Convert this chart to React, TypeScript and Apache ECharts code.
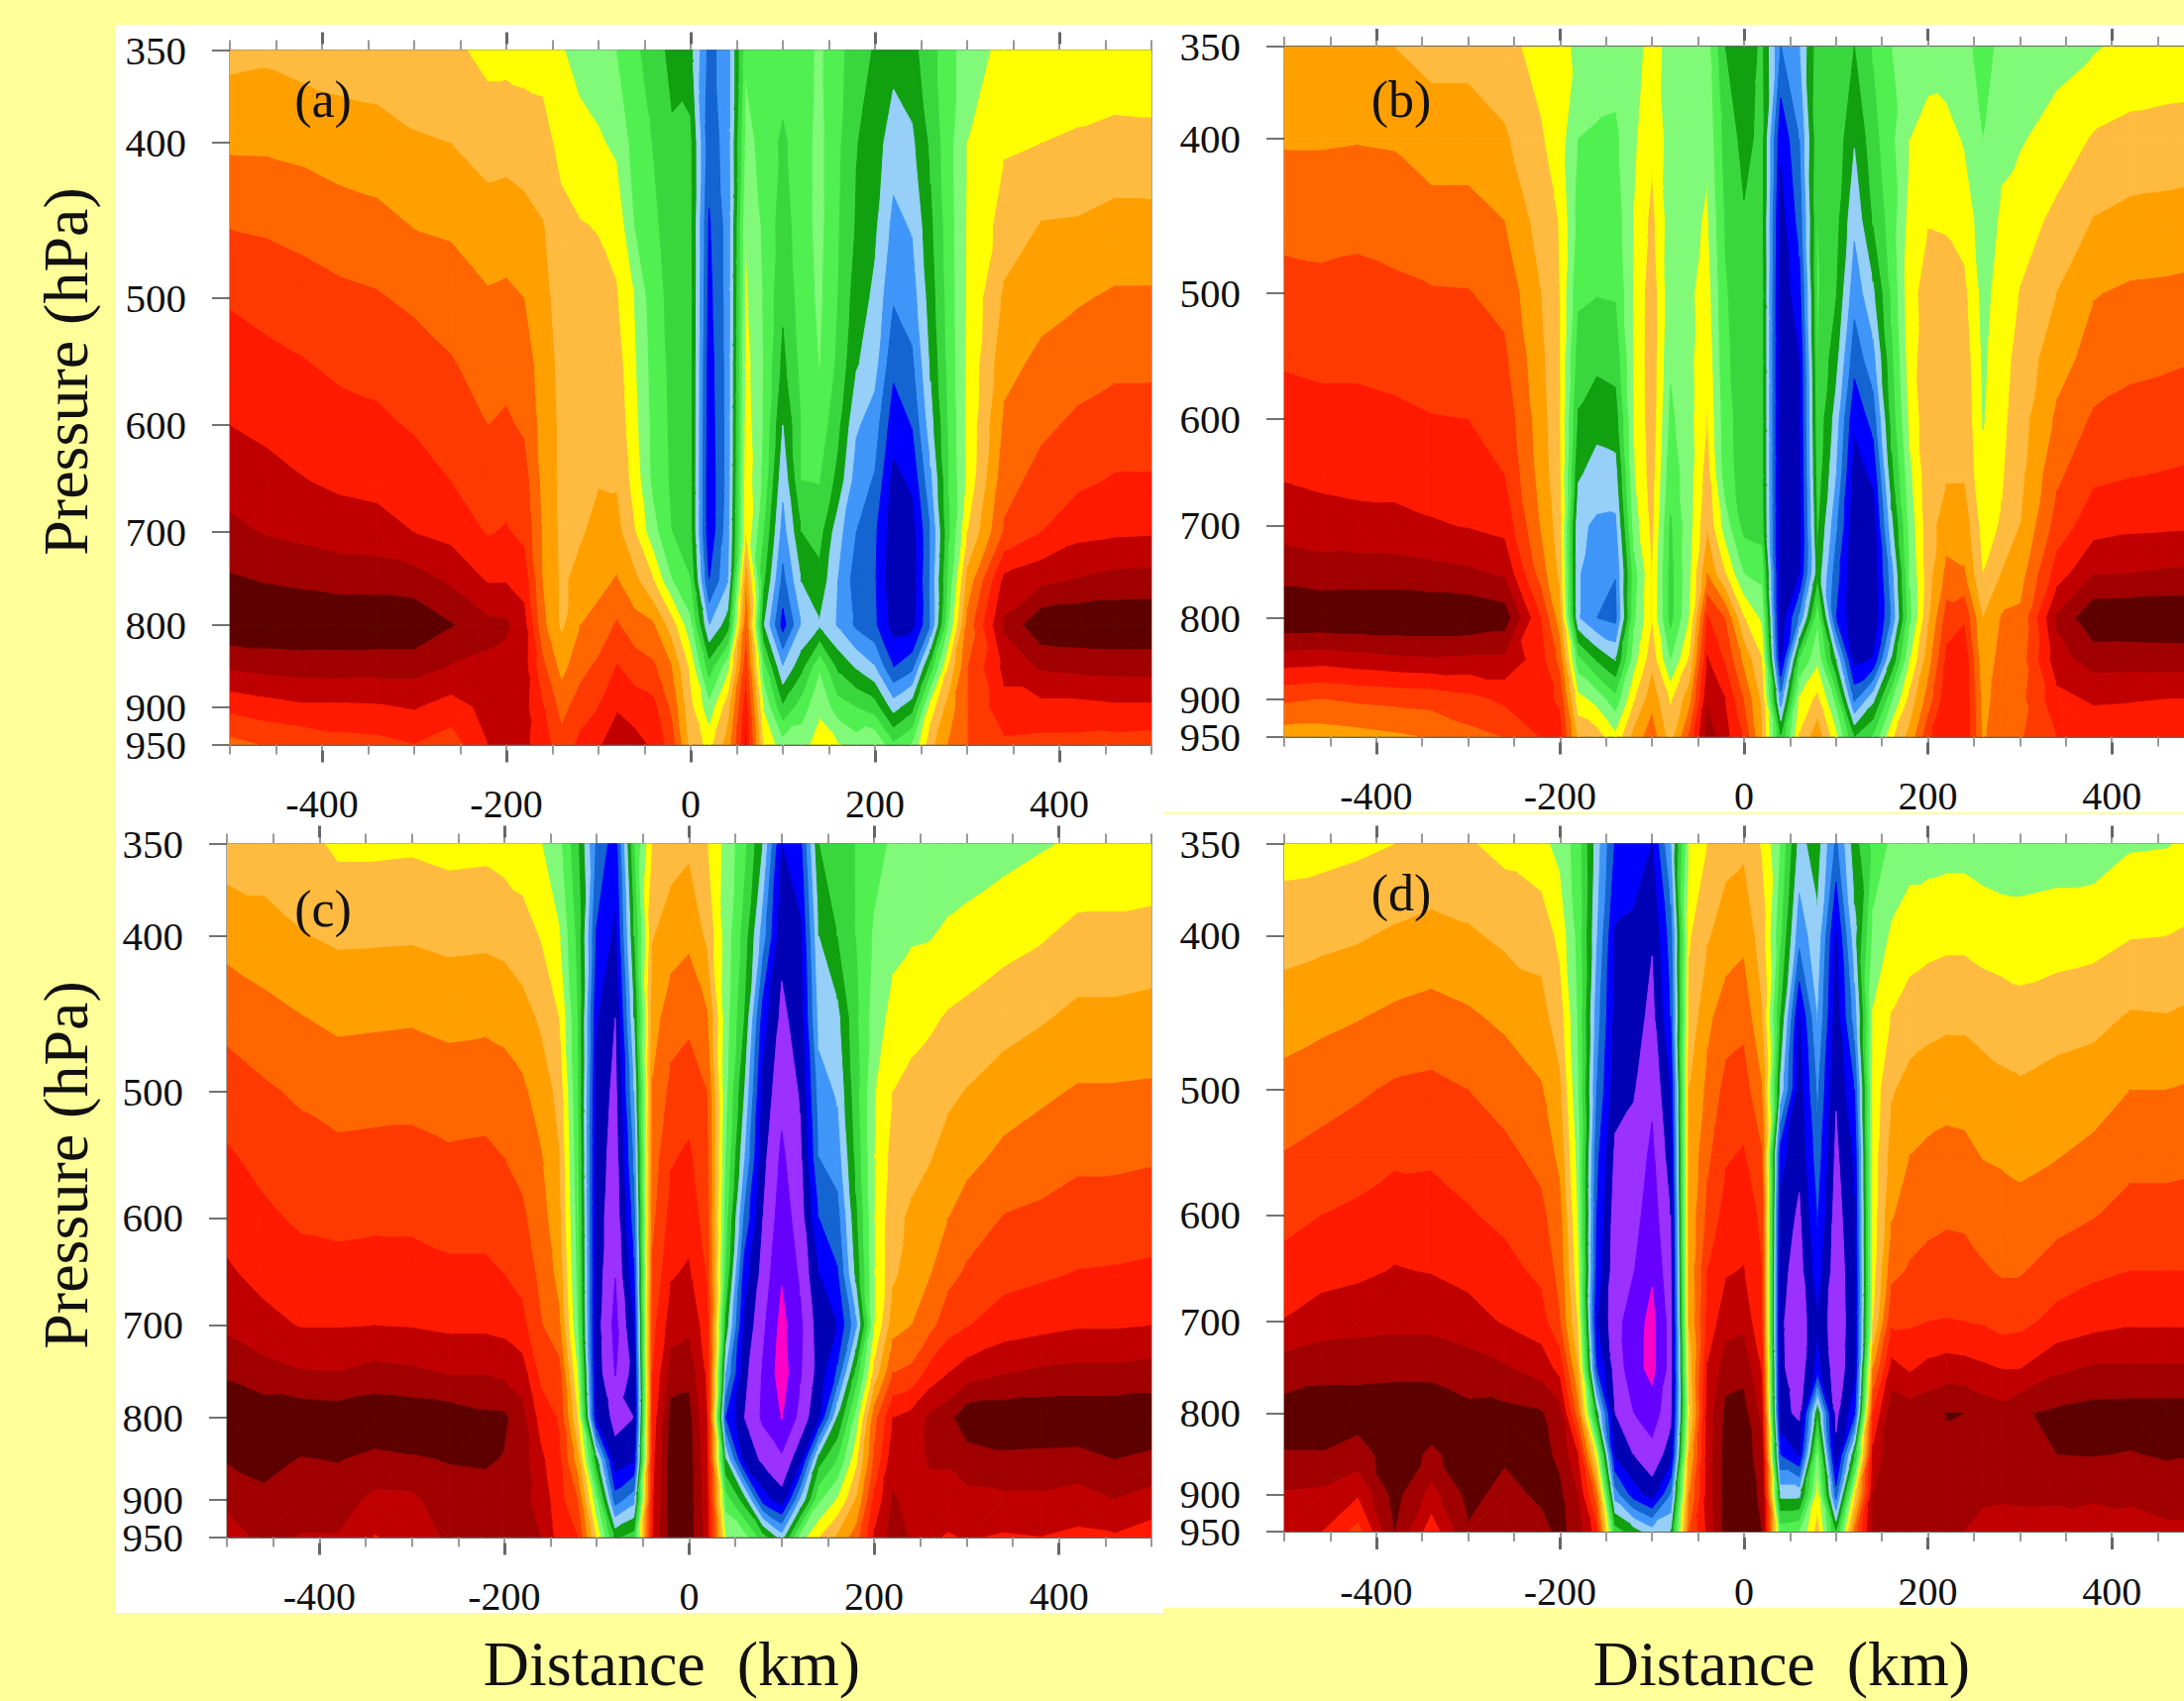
import React, { useEffect, useRef } from "react";
import * as echarts from "echarts";

const distances = [-500,-460,-420,-380,-340,-300,-260,-220,-200,-180,-160,-140,-120,-100,-80,-60,-40,-20,0,20,40,60,80,100,120,140,160,180,200,220,240,260,280,300,340,380,420,460,500];
const pressures = [350,400,450,500,550,600,650,700,750,800,850,900,950];
const pressureTicks = [350,400,500,600,700,800,900,950];
const pressureLabelsUpper = [350,400,500,600,700,800,900];
const pressureLabelsBase = [950];
const distanceLabels = [-400,-200,0,200,400];
const distanceTicks = [-500,-450,-400,-350,-300,-250,-200,-150,-100,-50,0,50,100,150,200,250,300,350,400,450,500];
const bandColors = ["#5f0000","#a00000","#c00000","#ff1a00","#ff3a00","#ff6600","#ffa000","#ffbb40","#ffff00","#80fa78","#50f050","#3ad63e","#10a010","#96cff8","#4096f8","#1464d2","#0000ff","#0000b4","#9b30ff","#6600ff","#ff00c8"];

// each inner list: one distance column, 350 hPa down to 950 hPa; value = colour band position
const panelA = [
[7.3,6.15,5.05,4.1,3.5,3.0,2.4,1.75,0.85,0.15,1.85,3.7,5.3],
[7.2,6.16,5.14,4.35,3.72,3.22,2.67,2.07,1.07,.15,1.65,3.4,4.9],
[7.4,6.27,5.32,4.55,3.93,3.43,2.96,2.26,1.23,.1,1.57,3.15,4.7],
[7.5,6.48,5.55,4.77,4.2,3.64,3.19,2.5,1.38,.15,1.55,3.15,4.4],
[7.55,6.6,5.7,4.9,4.3,3.8,3.3,2.6,1.4,.15,1.6,3.1,4.3],
[7.7,6.88,6.04,5.2,4.5,4.1,3.5,3.0,1.55,.15,1.6,2.9,4.0],
[7.75,7.0,6.15,5.48,4.9,4.45,4.0,3.3,2.15,.9,2.05,3.4,4.5],
[8.3,7.4,6.57,5.88,5.43,5.0,4.5,4.07,3.07,1.7,2.2,2.7,3.0],
[8.3,7.35,6.5,5.8,5.3,4.85,4.4,3.9,3.05,1.8,2.4,2.55,2.65],
[8.35,7.5,6.65,6.0,5.45,5.15,4.55,4.25,3.4,2.6,2.6,2.7,2.8],
[8.4,7.6,6.95,6.7,6.5,6.35,6.25,6.1,6.0,5.7,4.7,3.9,3.5],
[8.9,8.3,7.7,7.4,7.25,7.2,7.2,7.2,7.15,7.15,6.3,5.3,4.6],
[9.4,8.6,7.95,7.6,7.45,7.35,7.2,7.1,6.7,6.0,5.3,4.5,3.7],
[9.6,8.85,8.05,7.7,7.5,7.35,7.05,6.7,6.3,5.6,4.75,4.0,3.1],
[10,9.2,8.3,7.9,7.5,7.3,7.1,6.6,5.9,4.85,3.9,3.1,2.4],
[10.8,10.4,10.05,9.05,8.9,8.7,8.4,7.95,6.7,5.6,4.45,3.5,2.6],
[11.5,11.05,10.8,10.6,10.4,10.3,10.25,9.6,8.0,5.9,4.8,3.7,3.2],
[12.3,11.85,11.5,11.3,11.25,11.2,11.15,11,9.95,7.5,6,5.2,4.5],
[12.6,11.75,11.7,11.6,11.6,11.6,11.6,11.6,10.95,9.7,8.2,7.7,7.3],
[15.3,15.6,16.1,16.3,16.5,16.6,16.7,16.7,16,14,11.5,9.6,8.3],
[14.5,14.5,14.6,14.6,14.6,14.6,14.6,14.4,14.1,12.5,9.3,7.4,6.5],
[10.2,9.6,9.03,8.85,8.6,8.45,8.25,8.05,6.15,5.05,4.2,3.3,2.8],
[10.6,10.4,10.2,10.1,10.05,10.1,10.3,11,11.8,13,10.6,9.1,8.2],
[10.4,11.2,11.5,11.8,12.25,13,13.7,14.4,15.3,16.4,13.9,11.8,9.5],
[10.4,10.4,10.4,10.5,10.7,10.95,11,12,12.95,14,12.3,10.5,9.4],
[9.8,9.7,9.7,9.8,9.95,10.4,10.95,11.6,12.3,13.1,10.1,9.2,8.5],
[10.7,10.8,10.9,11,11.2,11.7,12.3,13.6,14,14.1,12.2,10.5,8.9],
[11.5,11.95,12.1,12.5,12.9,13.85,14.5,15,15.5,15.2,13.1,11,9.5],
[12.1,12.5,12.8,13.2,13.6,14.5,15.1,15.8,15.9,15.8,13.9,11.5,9],
[12.6,13.55,14.25,14.9,15.75,16.55,17.3,17.6,17.8,17.4,16,13.4,10.8],
[12.3,13.2,13.9,14.5,15.2,15.95,16.8,17.4,17.5,17.3,15.3,12.4,9.9],
[11.4,11.8,12.2,12.5,12.85,13.4,14.2,15,14.8,15,11.5,8.5,7.3],
[10.3,10.3,10.4,10.5,10.6,10.8,10.95,11.1,10.6,9.9,7.8,6.5,5.9],
[9.5,9,8.9,8.85,8.8,8.75,8.7,8,6.6,5.6,5,5,5],
[8.7,8.1,7.6,6.8,6.3,5.8,5.35,4.85,2.7,1.8,2.7,3.3,4.2],
[8.9,8,6.95,6.35,5.75,5.2,4.65,4,2.25,.2,1.85,3.3,4.3],
[8.95,7.8,6.9,6.1,5.4,4.8,4.2,3.3,1.9,.15,1.7,3.3,4.3],
[8.9,7.6,6.7,5.85,5.2,4.55,3.9,3.15,1.65,.15,1.6,3.15,4.4],
[8.9,7.65,6.7,5.85,5.2,4.5,3.9,3.1,1.6,.15,1.6,3.15,4.5],
];

const panelB = [
[6.9,6.1,5.3,4.67,4.1,3.6,3.1,2.4,1.35,.1,2.5,4.8,6.5],
[6.9,6.1,5.35,4.75,4.2,3.7,3.25,2.55,1.55,.1,2.6,5,6.5],
[6.95,6.05,5.25,4.7,4.2,3.7,3.35,2.65,1.5,.1,2.4,4.8,6.35],
[7,6.1,5.4,4.8,4.3,3.8,3.35,2.7,1.5,.1,2.2,4.7,6.15],
[7.35,6.45,5.65,4.92,4.45,3.95,3.45,2.9,1.65,.1,2.1,4.6,5.9],
[7.35,6.45,5.65,4.95,4.5,4,3.5,3.05,1.8,.1,2.2,4.3,5.3],
[7.7,6.85,6,5.3,4.8,4.35,4,3.3,2.15,.4,2.2,3.75,4.95],
[8.35,7.9,7.45,7,6.75,6.55,6.4,6.1,5.5,4,3.6,3.6,3.9],
[8.7,8.5,8.05,8,7.95,7.9,7.8,7.5,7.2,6.5,5.3,4.2,3.5],
[9.2,10,10.3,10.8,11.5,12.1,12.85,13.8,13.9,13.9,10.7,8.6,7.2],
[9.3,10.15,10.5,10.95,11.75,12.6,13.45,14.15,14.6,15,12.1,9.35,7.5],
[9.5,10.2,10.55,10.9,11.6,12.45,13.35,14.2,14.95,15.3,13.05,10.6,8.7],
[9.4,9.15,8.95,8.9,8.9,8.95,9.05,9.5,10.4,10.2,9.4,8.1,6.6],
[8.6,8.2,7.7,7.35,7.3,7.35,7.5,7.7,7.95,8,7.3,6.3,5.4],
[9.3,9.4,9.5,9.6,9.85,10.2,10.6,11.1,11.3,11.3,10,8.1,7.4],
[9.3,9.3,9.3,9.2,9.25,9.3,9.4,9.35,9.2,9,7.9,6.4,4.8],
[9.5,9.2,8.85,8.5,8.2,7.97,7.5,7.1,6,3.85,2.85,2.1,1.4],
[12,11.4,11.1,10.9,10.8,10.6,10.5,9.5,8,5,4.1,3,2.6],
[12.5,12.3,11.9,11.6,11.5,11.5,11.5,11.3,10,7.9,6.2,5,4.1],
[11.8,11.7,11.7,11.6,11.6,11.6,11.6,11.5,10.3,9.2,8,7.2,6.9],
[15,16.8,17.4,17.6,17.6,17.6,17.6,17.6,17.6,17.6,17.1,14.5,11.9],
[14,15,15.6,16.4,17,17.1,17.2,17.3,17,14.8,11,8.8,7.9],
[11.4,11.2,11,10.9,11,11.2,11.4,11.8,12.3,10.2,9.2,7.7,6.3],
[11.2,11.3,11.6,11.9,12.6,13.4,13.9,14.7,15.5,15.95,12.9,10.2,8.6],
[12,12.9,13.75,14.6,15.6,16.8,17.4,17.6,17.7,17.7,17.3,15.2,12],
[10.9,11.4,11.9,13.2,14.35,15.6,16.8,17.5,17.7,17.7,16.9,13.3,10.9],
[10,10.2,10.5,10.8,11.2,11.6,12.3,13.3,14.4,14.9,12.9,10.2,8.2],
[9.6,9,8.6,8.3,8.4,8.7,9.2,9.6,9.9,10.2,9,7.6,6.6],
[9.4,8.65,8.05,7.6,7.4,7.3,7.3,7.4,7.4,7.1,6.4,5.5,4.2],
[9.6,8.6,8.1,7.6,7.35,7.25,7.1,6.5,5.7,4.5,3.7,3.3,3.2],
[9.7,9.1,8.4,7.75,7.4,7.25,7.1,6.4,5.9,4.1,3.2,3,3],
[10.4,10,9.5,9.3,9.15,9.05,8.8,8.35,8,7,6.6,6.3,6.1],
[9.7,9.2,8.85,8.55,8.4,8.25,8.1,7.9,6.95,5.9,5.6,5.5,5.4],
[9.6,9.1,8.45,7.95,7.6,7.4,7.25,7,6.4,5.8,5.5,5.3,5.1],
[9.4,8.55,7.75,7,6.4,5.8,5.2,4.55,3.5,1.8,2.4,3.3,4],
[9.1,7.9,6.95,6.05,5.6,4.85,4.2,3.4,2.05,.2,1.55,2.85,3.7],
[8.7,7.7,6.7,5.85,5.25,4.65,4.05,3.2,2,.15,1.6,2.9,3.9],
[8.65,7.6,6.65,5.8,5.15,4.5,3.95,3.15,1.85,.15,1.55,3,3.95],
[8.6,7.5,6.55,5.7,5,4.4,3.85,3.1,1.8,.15,1.5,3,4],
];

const panelC = [
[7.5,6.35,5.3,4.5,3.85,3.35,2.85,2.2,1.15,.2,.9,1.85,2.3],
[7.5,6.6,5.65,4.85,4.3,3.8,3.3,2.7,1.6,.35,.7,1.2,1.8],
[7.6,6.93,5.95,5.15,4.6,4.15,3.6,3.05,1.9,.3,1.05,1.55,2.05],
[8.2,7.15,6.2,5.4,4.75,4.25,3.65,3.05,1.95,.4,.95,1.5,2.05],
[8.2,7.13,6.15,5.35,4.7,4.2,3.55,3,1.65,.25,1.25,2.25,3.05],
[8.15,7.1,6.1,5.3,4.7,4.2,3.6,3.05,1.8,.3,1.1,2.2,2.6],
[8.3,7.25,6.25,5.5,4.85,4.35,3.8,3.2,2.05,.4,.95,1.4,1.8],
[8.25,7.2,6.2,5.4,4.8,4.35,3.8,3.2,2.05,.75,.9,1.3,1.7],
[8.4,7.3,6.3,5.55,5,4.45,4,3.3,2.2,.8,1.05,1.4,1.7],
[8.5,7.6,6.6,5.8,5.3,4.8,4.3,3.7,2.5,1.6,1.6,1.75,1.85],
[8.95,8.05,7.15,6.45,5.9,5.55,5.25,4.9,4.25,3.4,2.75,2.35,2],
[9.7,8.9,8,7.3,6.95,6.7,6.3,5.8,4.6,4.1,3.8,3.6,3.4],
[11.8,11.3,11,10.9,10.7,10.5,10.3,10,9,8,6.5,5,4],
[15.2,16.1,16.9,17.2,17.4,17.5,17.5,17.6,17.5,17.1,12.5,9.8,8],
[16.5,17.2,18,18.3,18.5,18.7,18.97,19.3,19.05,18.3,17.6,15.5,12.2],
[11,12,13,14,14.8,15.5,16.2,17,17.6,18,17.1,14.4,11.5],
[7.95,7.05,6.4,5.9,5.5,5.2,4.8,4.3,4,3.6,3.3,3.1,3],
[7.45,6.45,5.45,4.7,4.1,3.6,3.1,2.45,1.5,.6,.5,.5,.5],
[7.2,6.2,5.2,4.45,3.8,3.35,2.85,2.25,1.3,.6,.5,.5,.5],
[7.95,7.2,5.85,5,4.7,4.5,4.1,3.5,3.2,3,2.8,2.6,2.4],
[9.3,9.4,9.5,9.7,10,10.5,11,12.3,14,16,13,10.5,9],
[10.7,11.4,12,13,13.9,15.2,16.5,17.2,17.7,18,17.3,12.5,9.6],
[13,14.5,16.5,17.3,17.7,18,18.4,18.8,19.1,19.2,18.2,16.5,11.5],
[17,17.7,18.25,18.7,19.2,19.55,19.9,20.3,20.5,20.05,18.8,17.6,13.5],
[16.3,17.2,17.5,17.9,18.2,18.5,18.85,19.2,19.1,18.7,17.3,14,9.5],
[12,13,13.6,14.5,15,16,17,17.5,17.6,17.1,12.4,10.2,8],
[11.95,12,13.3,13.85,14.5,15.4,16.1,17,15.8,13,11,8.9,6.8],
[10.95,11,11.2,11.4,11.7,12.2,12.7,14.3,11.7,9.6,8.3,7,5.5],
[10.5,9.8,9.5,9.05,9,9,9,9,7.6,5.3,4.8,3.7,2.8],
[9.75,9.3,8.65,8,7.6,7.25,7.2,6.4,5,3,2.3,1.9,1.5],
[9.8,9.1,8.3,7.75,7.3,6.85,6.45,6,4.75,2.6,2.4,2.2,2.05],
[9.8,9.05,8.15,7.55,7.05,6.55,6.05,5.3,3.6,1.8,1.9,2.3,2.8],
[9.7,8.8,7.9,7.2,6.6,6,5.3,4.4,3,1.3,1.9,2.3,3.1],
[9.6,8.65,7.75,6.95,6.3,5.5,4.85,4.05,2.5,.3,1.5,2.25,2.9],
[9.35,8.35,7.4,6.5,5.75,4.95,4.35,3.5,2.05,.3,1.2,2.2,3.1],
[9.1,8.1,7.1,6.2,5.45,4.8,4.15,3.3,1.8,.3,1.25,2.2,3],
[8.85,7.7,6.75,5.9,5.2,4.55,3.95,3.1,1.7,.3,1.3,2.45,3.2],
[8.8,7.7,6.75,5.9,5.2,4.5,3.9,3.1,1.7,.3,1,2,3.1],
[8.8,7.6,6.65,5.85,5.1,4.45,3.8,3,1.55,.3,1.2,2.4,3.5],
];

const panelD = [
[8.4,7.4,6.45,5.65,4.95,4.3,3.65,2.95,1.5,.6,1.05,2.1,2.6],
[8.35,7.25,6.25,5.4,4.7,4,3.35,2.55,1.25,.55,1.05,2.2,2.95],
[8.2,7.1,6.05,5.15,4.45,3.8,3.2,2.4,1.25,.55,1.4,2.85,4.35],
[8,6.85,5.8,4.85,4.2,3.4,2.95,2.3,1.2,.5,.5,.6,.95],
[7.85,6.65,5.65,4.75,4.15,3.55,3.05,2.3,1.2,.5,1.15,2.35,3.55],
[7.9,6.85,5.85,5,4.4,3.9,3.3,2.6,1.5,.75,.6,.7,1.1],
[8.3,7.2,6.2,5.4,4.75,4.25,3.65,3.1,1.85,.7,.85,1.3,1.9],
[8.75,7.3,6.7,5.9,5.3,4.75,4.25,3.55,2.4,.9,.7,.8,1.3],
[9.3,8.3,7.45,6.8,6.25,5.6,5.3,4.9,3.3,1.6,1.2,.8,.7],
[10.5,10.3,10.1,9.9,9.4,9.1,8.7,8.1,7,5.5,3,2,1.5],
[13.5,13.9,14.5,15,15.7,16,16.3,16.9,15.9,12.5,8.5,5.5,3.5],
[16.1,17.1,17.3,17.6,18.2,18.5,18.6,18.65,18.4,18,17.1,14.5,11.5],
[16.5,17.2,17.5,17.9,18.4,18.65,18.95,19.5,19.6,19,18,16.5,12.5],
[17,17.9,18.3,18.8,19.2,19.5,19.85,20.3,20.3,19.5,18.65,17.45,13.5],
[14,15.5,16,17,17.5,18,18.3,18.6,18.6,18.3,17.5,15,13],
[9,8.1,7.7,7,6.8,6.7,6.7,6.9,7.5,8.1,7,6,5],
[8,7.1,6.2,5.75,5.2,4.7,4,3.6,2.9,2.5,2.5,2.5,2.7],
[7.35,6.5,5.5,4.65,4.1,3.6,3.1,2.4,1.45,.7,.5,.5,.5],
[7.2,6.25,5.3,4.5,3.9,3.4,2.95,2.25,1.3,.6,.5,.5,.5],
[8.1,7.5,6.9,5.9,4.9,4.2,4,3.9,3.1,2.3,1.5,1.2,1],
[10,10.8,12,13.3,16.6,17.4,17.7,17.85,17.8,17.7,16,13.3,10.3],
[13.3,14.6,17.05,17.45,17.75,18.15,18.4,18.6,18.6,18.2,17.1,13.3,10],
[12.5,13.25,13.95,14.8,15.4,15.9,16.4,17.1,16.6,12,9.6,8.4,7.5],
[15.2,17.1,17.5,17.9,18.2,18.45,18.6,18.7,18.6,18.25,17.7,15.5,12],
[12.4,13.3,14.5,16,16.8,17.1,17.3,17.35,17.3,16.3,12,8.2,5.5],
[10.7,9.7,8.9,8.6,8.5,8.5,8.4,8,6,3.9,2.7,2,1.6],
[9.8,8.85,7.95,7.1,6.6,6.1,5.3,4.2,2.6,1.4,1.3,1.3,1.95],
[9.4,8.5,7.5,6.65,6,5.45,4.9,4.15,3.1,1.5,1.4,1.4,1.6],
[9.4,8.35,7.3,6.5,5.8,5.25,4.7,4,2.7,1.3,1.3,1.3,1.4],
[9.35,8.25,7.2,6.35,5.7,5.15,4.55,3.95,2.5,.95,1.25,1.4,1.45],
[9.35,8.25,7.2,6.4,5.75,5.2,4.6,4,2.6,1,1.2,1.65,2],
[9.5,8.4,7.4,6.55,6.05,5.4,4.9,4.1,2.8,1.4,1.3,1.8,2.35],
[9.6,8.5,7.5,6.75,6.15,5.5,5.1,4.4,3,1.6,1.4,1.85,2.4],
[9.6,8.55,7.65,6.85,6.25,5.7,5.1,4.3,3,1.1,1.3,1.8,2.4],
[9.5,8.45,7.45,6.6,6.05,5.35,4.55,3.65,2.2,.8,1,1.8,2.45],
[9.5,8.35,7.3,6.45,5.75,5.05,4.2,3.35,1.85,.6,.95,1.9,2.3],
[9.1,8.05,6.9,6,5.3,4.65,4,3.15,1.85,.55,1.05,1.8,2.4],
[9.05,8,6.95,6,5.3,4.65,4,3.15,1.85,.55,.9,1.55,2.2],
[8.7,7.8,6.7,5.85,5.2,4.55,4,3.15,1.85,.55,1,1.5,2.2],
];

const panels = [
  { name: "(a)", values: panelA, left: 232, right: 1162, top: 50.5, bottom: 751.5, lx: 326, ly: 100 },
  { name: "(b)", values: panelB, left: 1296, right: 2224, top: 47, bottom: 743.5, lx: 1414, ly: 100 },
  { name: "(c)", values: panelC, left: 229, right: 1162, top: 851.5, bottom: 1551.5, lx: 326, ly: 917 },
  { name: "(d)", values: panelD, left: 1296, right: 2224, top: 851.5, bottom: 1546, lx: 1414, ly: 901 },
];

type V = [number, number, number];

function clipBand(poly: V[], level: number, keepAbove: boolean): V[] {
  const out: V[] = [];
  for (let i = 0; i < poly.length; i++) {
    const a = poly[i];
    const b = poly[(i + 1) % poly.length];
    const aIn = keepAbove ? a[2] >= level : a[2] <= level;
    const bIn = keepAbove ? b[2] >= level : b[2] <= level;
    if (aIn) out.push(a);
    if (aIn !== bIn) {
      const t = (level - a[2]) / (b[2] - a[2]);
      out.push([a[0] + t * (b[0] - a[0]), a[1] + t * (b[1] - a[1]), level]);
    }
  }
  return out;
}

function triangleBands(tri: V[], children: any[]) {
  const vs = tri.map((p) => p[2]);
  const lo = Math.max(0, Math.floor(Math.min(...vs)));
  const hi = Math.min(bandColors.length - 1, Math.floor(Math.max(...vs)));
  for (let k = lo; k <= hi; k++) {
    let poly = k === 0 ? tri : clipBand(tri, k, true);
    if (poly.length >= 3 && k < bandColors.length - 1) poly = clipBand(poly, k + 1, false);
    if (poly.length < 3) continue;
    children.push({
      type: "polygon",
      shape: { points: poly.map((p) => [p[0], p[1]]) },
      style: { fill: bandColors[k], stroke: bandColors[k], lineWidth: 1 },
    });
  }
}

function makeRenderItem(values: number[][]) {
  return (_params: any, api: any) => {
    const c = api.value(2);
    const r = api.value(3);
    const corner = (ci: number, ri: number): V => {
      const pt = api.coord([distances[ci], Math.log(pressures[ri])]);
      return [pt[0], pt[1], values[ci][ri]];
    };
    const a = corner(c, r);
    const b = corner(c + 1, r);
    const d = corner(c + 1, r + 1);
    const e = corner(c, r + 1);
    const children: any[] = [];
    if (Math.abs(a[2] - d[2]) <= Math.abs(b[2] - e[2])) {
      triangleBands([a, b, d], children);
      triangleBands([a, d, e], children);
    } else {
      triangleBands([a, b, e], children);
      triangleBands([b, d, e], children);
    }
    return { type: "group", children };
  };
}

const FONT = "Liberation Serif";

function buildOption() {
  const grid: any[] = [];
  const xAxis: any[] = [];
  const yAxis: any[] = [];
  const series: any[] = [];
  const lnTicks = pressureTicks.map((p) => Math.log(p));
  const pressureText = (v: number) => String(Math.round(Math.exp(v)));
  panels.forEach((p, i) => {
    grid.push({ left: p.left, top: p.top, width: p.right - p.left, height: p.bottom - p.top, containLabel: false });
    const baseX = { type: "value", gridIndex: i, min: -500, max: 500, interval: 50, splitLine: { show: false } };
    const xBottom = xAxis.length;
    xAxis.push({
      ...baseX, position: "bottom",
      axisLine: { show: true, onZero: false, lineStyle: { color: "#666", width: 2 } },
      axisTick: { show: true, length: 10, customValues: distanceTicks, lineStyle: { color: "#999", width: 2 } },
      axisLabel: { show: true, customValues: distanceLabels, margin: 40, color: "#111", fontFamily: FONT, fontSize: 40 },
    });
    xAxis.push({
      ...baseX, position: "top",
      axisLine: { show: true, onZero: false, lineStyle: { color: "#666", width: 2 } },
      axisTick: { show: true, length: 10, customValues: distanceTicks, lineStyle: { color: "#999", width: 2 } },
      axisLabel: { show: false },
    });
    ["bottom", "top"].forEach((pos) => {
      xAxis.push({
        ...baseX, position: pos, offset: 6,
        axisLine: { show: false, onZero: false },
        axisTick: { show: true, length: 12, customValues: distanceLabels, lineStyle: { color: "#666", width: 3 } },
        axisLabel: { show: false },
      });
    });
    const baseY = { type: "value", gridIndex: i, min: Math.log(350), max: Math.log(950), inverse: true, splitLine: { show: false } };
    const yLeft = yAxis.length;
    yAxis.push({
      ...baseY, position: "left",
      axisLine: { show: true, onZero: false, lineStyle: { color: "#888", width: 2.5 } },
      axisTick: { show: true, length: 18, customValues: lnTicks, lineStyle: { color: "#444", width: 1.5 } },
      axisLabel: {
        show: true, customValues: pressureLabelsUpper.map((v) => Math.log(v)), margin: 44, color: "#111", fontFamily: FONT, fontSize: 41,
        showMinLabel: true, showMaxLabel: true, hideOverlap: false, formatter: pressureText,
      },
    });
    yAxis.push({
      ...baseY, position: "left",
      axisLine: { show: false, onZero: false }, axisTick: { show: false },
      axisLabel: {
        show: true, customValues: pressureLabelsBase.map((v) => Math.log(v)), margin: 44, color: "#111", fontFamily: FONT, fontSize: 41,
        showMinLabel: true, showMaxLabel: true, hideOverlap: false, formatter: pressureText,
      },
    });
    yAxis.push({
      ...baseY, position: "right",
      axisLine: { show: true, onZero: false, lineStyle: { color: "#888", width: 1.5 } },
      axisTick: { show: false }, axisLabel: { show: false },
    });
    const cells: number[][] = [];
    for (let c = 0; c < distances.length - 1; c++) {
      for (let r = 0; r < pressures.length - 1; r++) {
        cells.push([distances[c], Math.log(pressures[r]), c, r]);
      }
    }
    series.push({
      type: "custom", coordinateSystem: "cartesian2d", xAxisIndex: xBottom, yAxisIndex: yLeft,
      silent: true, clip: true, animation: false, data: cells, encode: { x: 0, y: 1 },
      renderItem: makeRenderItem(p.values),
    });
  });
  const text = (t: string, x: number, y: number, size: number, rotation = 0) => ({
    type: "text", x, y, rotation, z: 100,
    style: { text: t, fill: "#111", font: `${size}px "${FONT}"`, textAlign: "center", textVerticalAlign: "middle" },
  });
  const graphic = [
    { type: "rect", z: -1, shape: { x: 117, y: 25, width: 1057, height: 1603 }, style: { fill: "#fff" } },
    { type: "rect", z: -1, shape: { x: 1170, y: 25, width: 1070, height: 1598 }, style: { fill: "#fff" } },
    { type: "rect", z: -1, shape: { x: 1174, y: 820, width: 1066, height: 2 }, style: { fill: "#FFFF99" } },
    ...panels.map((p) => text(p.name, p.lx, p.ly, 52)),
    text("Pressure (hPa)", 66, 375, 64, Math.PI / 2),
    text("Pressure (hPa)", 66, 1176, 64, Math.PI / 2),
    text("Distance  (km)", 678, 1679, 64),
    text("Distance  (km)", 1798, 1679, 64),
  ];
  return { animation: false, backgroundColor: "#FFFF99", grid, xAxis, yAxis, series, graphic };
}

export default function App() {
  const ref = useRef<HTMLDivElement>(null);
  useEffect(() => {
    document.body.style.margin = "0";
    const chart = echarts.init(ref.current!, undefined, { renderer: "svg" });
    chart.setOption(buildOption() as any);
    return () => chart.dispose();
  }, []);
  return (
    <div style={{ position: "absolute", left: 0, top: 0, width: 2204, height: 1717, overflow: "hidden" }}>
      <div ref={ref} style={{ width: 2240, height: 1717 }} />
    </div>
  );
}
